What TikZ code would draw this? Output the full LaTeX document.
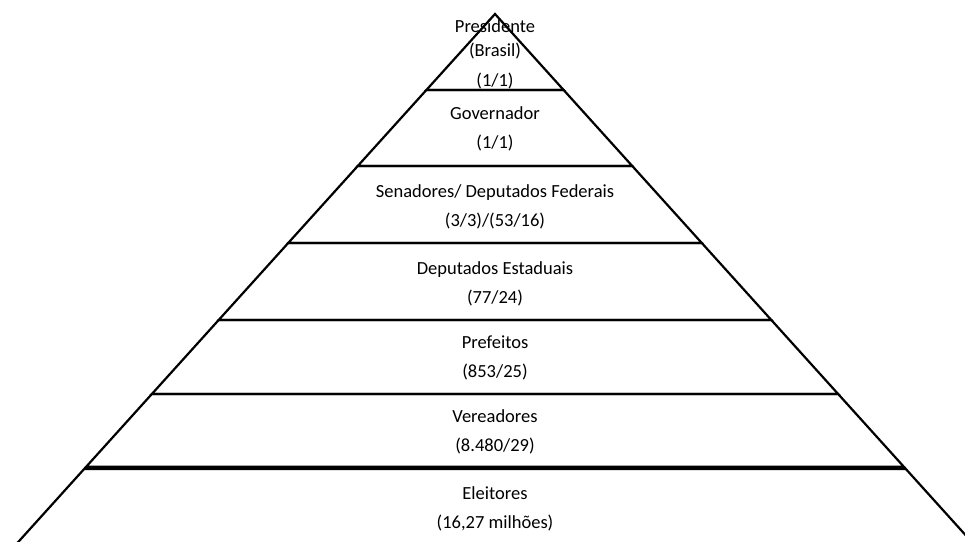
\documentclass[tikz,border=0pt]{standalone}
\usepackage{fontspec}
\setmainfont{Carlito}
\usetikzlibrary{positioning}

\begin{document}
\begin{tikzpicture}[x=1pt,y=-1pt,
        level/.style={draw,line width=2.2pt,line join=miter},
        lbl/.style={align=center,inner sep=0pt,font=\fontsize{18.5}{29}\selectfont}]
    \useasboundingbox (0,0) rectangle (965,541);
    \clip (0,0) rectangle (965,541);
    % pyramid levels (top/bottom edge in px)
    \foreach \t/\b in {14/90,90/166,166/243,243/320,320/394,394/466.8,468.9/552}
        \draw[level] ({495-0.903*(\t-14)},\t) -- ({495+0.903*(\t-14)},\t)
            -- ({495+0.903*(\b-14)},\b) -- ({495-0.903*(\b-14)},\b) -- cycle;
    \node[lbl,font=\fontsize{18.5}{24}\selectfont] (presidente) at (495,54) {Presidente\\(Brasil)\\[6pt](1/1)};
    \node[lbl] (governador) at (495,128.5) {Governador\\(1/1)};
    \node[lbl] (senadores) at (495,207) {Senadores/ Deputados Federais\\(3/3)/(53/16)};
    \node[lbl] (estaduais) at (495,284) {Deputados Estaduais\\(77/24)};
    \node[lbl] (prefeitos) at (495,358) {Prefeitos\\(853/25)};
    \node[lbl] (vereadores) at (495,432) {Vereadores\\(8.480/29)};
    \node[lbl] (eleitores) at (495,508.5) {Eleitores\\(16,27 milhões)};
\end{tikzpicture}
\end{document}
